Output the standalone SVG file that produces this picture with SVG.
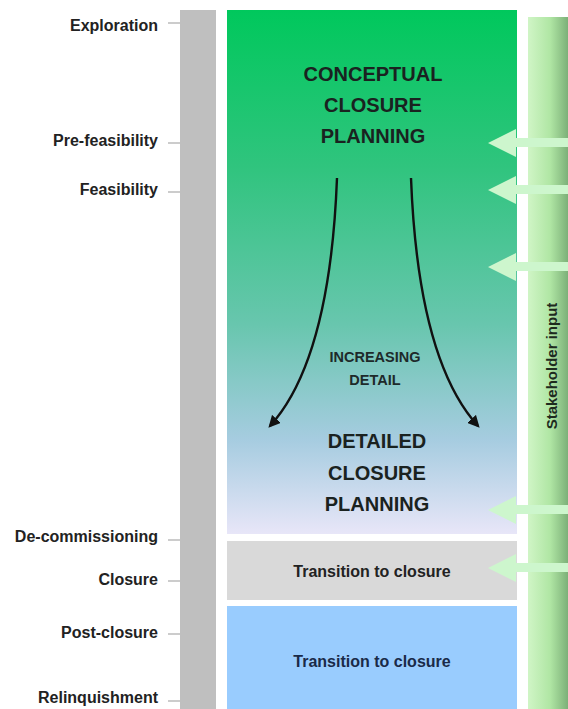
<svg xmlns="http://www.w3.org/2000/svg" width="568" height="709" viewBox="0 0 568 709">
<defs>
<linearGradient id="gMain" x1="0" y1="0" x2="0" y2="1">
<stop offset="0" stop-color="#00c85c"/>
<stop offset="0.3" stop-color="#30c47e"/>
<stop offset="0.6" stop-color="#68c6ae"/>
<stop offset="0.82" stop-color="#a6cce0"/>
<stop offset="1" stop-color="#e8e6f8"/>
</linearGradient>
<linearGradient id="gStake" x1="0" y1="0" x2="1" y2="0">
<stop offset="0" stop-color="#d0f5c6"/>
<stop offset="0.55" stop-color="#b0e6a4"/>
<stop offset="1" stop-color="#7cb078"/>
</linearGradient>
<marker id="ah" viewBox="0 0 10 10" refX="8" refY="5" markerWidth="5" markerHeight="5" orient="auto">
<path d="M0,0 L10,5 L0,10 Z" fill="#111"/>
</marker>
<style>
.lbl{font-family:"Liberation Sans",Arial,sans-serif;font-weight:bold;font-size:16px;fill:#222;text-anchor:end}
.tick{stroke:#999;stroke-width:1}
.big{font-family:"Liberation Sans",Arial,sans-serif;font-weight:bold;font-size:20px;fill:#1a2220;text-anchor:middle}
.mid{font-family:"Liberation Sans",Arial,sans-serif;font-weight:bold;font-size:14.5px;fill:#1e2a2a;text-anchor:middle}
.trn{font-family:"Liberation Sans",Arial,sans-serif;font-weight:bold;font-size:16px;fill:#222;text-anchor:middle}
.inarrow{fill:#cdf6cd}
.curve{fill:none;stroke:#111;stroke-width:2.4}
</style>
</defs>
<rect width="568" height="709" fill="#ffffff"/>

<g id="timeline">
<rect x="180" y="10" width="36" height="699" fill="#bfbfbf"/>
</g>

<g id="stage-labels">
<text class="lbl" x="158" y="31">Exploration</text>
<line class="tick" x1="168" y1="23" x2="180" y2="23"/>
<text class="lbl" x="158" y="146">Pre-feasibility</text>
<line class="tick" x1="168" y1="143" x2="180" y2="143"/>
<text class="lbl" x="158" y="195">Feasibility</text>
<line class="tick" x1="168" y1="192" x2="180" y2="192"/>
<text class="lbl" x="158" y="542">De-commissioning</text>
<line class="tick" x1="168" y1="540" x2="180" y2="540"/>
<text class="lbl" x="158" y="585">Closure</text>
<line class="tick" x1="168" y1="581" x2="180" y2="581"/>
<text class="lbl" x="158" y="638">Post-closure</text>
<line class="tick" x1="168" y1="634" x2="180" y2="634"/>
<text class="lbl" x="158" y="703">Relinquishment</text>
<line class="tick" x1="168" y1="701" x2="180" y2="701"/>
</g>

<g id="planning">
<rect x="227" y="10" width="290" height="524" fill="url(#gMain)"/>
<text class="big" x="373" y="81">CONCEPTUAL</text>
<text class="big" x="373" y="112">CLOSURE</text>
<text class="big" x="373" y="143">PLANNING</text>
<text class="mid" x="375" y="362">INCREASING</text>
<text class="mid" x="375" y="385">DETAIL</text>
<text class="big" x="377" y="448">DETAILED</text>
<text class="big" x="377" y="480">CLOSURE</text>
<text class="big" x="377" y="511">PLANNING</text>
</g>

<g id="transition1">
<rect x="227" y="541" width="290" height="59" fill="#d9d9d9"/>
<text class="trn" x="372" y="577">Transition to closure</text>
</g>

<g id="transition2">
<rect x="227" y="606" width="290" height="103" fill="#99ccfe"/>
<text class="trn" x="372" y="667" style="fill:#1a2a48">Transition to closure</text>
</g>

<g id="stakeholder">
<rect x="528" y="17" width="40" height="692" fill="url(#gStake)"/>
<text x="0" y="0" transform="translate(557,366) rotate(-90)" style="font-family:'Liberation Sans',Arial,sans-serif;font-weight:bold;font-size:15px;fill:#1e2a1e;text-anchor:middle">Stakeholder input</text>
</g>

<g id="connectors">
<path class="curve" d="M337,178 Q330,360 270,426" marker-end="url(#ah)"/>
<path class="curve" d="M411,178 Q418,360 478,426" marker-end="url(#ah)"/>
<polygon class="inarrow" points="488,143 516,129 516,138 568,138 568,147 516,147 516,157"/>
<polygon class="inarrow" points="488,190 516,176 516,185 568,185 568,194 516,194 516,204"/>
<polygon class="inarrow" points="488,267 516,253 516,262 568,262 568,271 516,271 516,281"/>
<polygon class="inarrow" points="488,510 516,496 516,505 568,505 568,514 516,514 516,524"/>
<polygon class="inarrow" points="488,568 516,554 516,563 568,563 568,572 516,572 516,582"/>
</g>
</svg>
